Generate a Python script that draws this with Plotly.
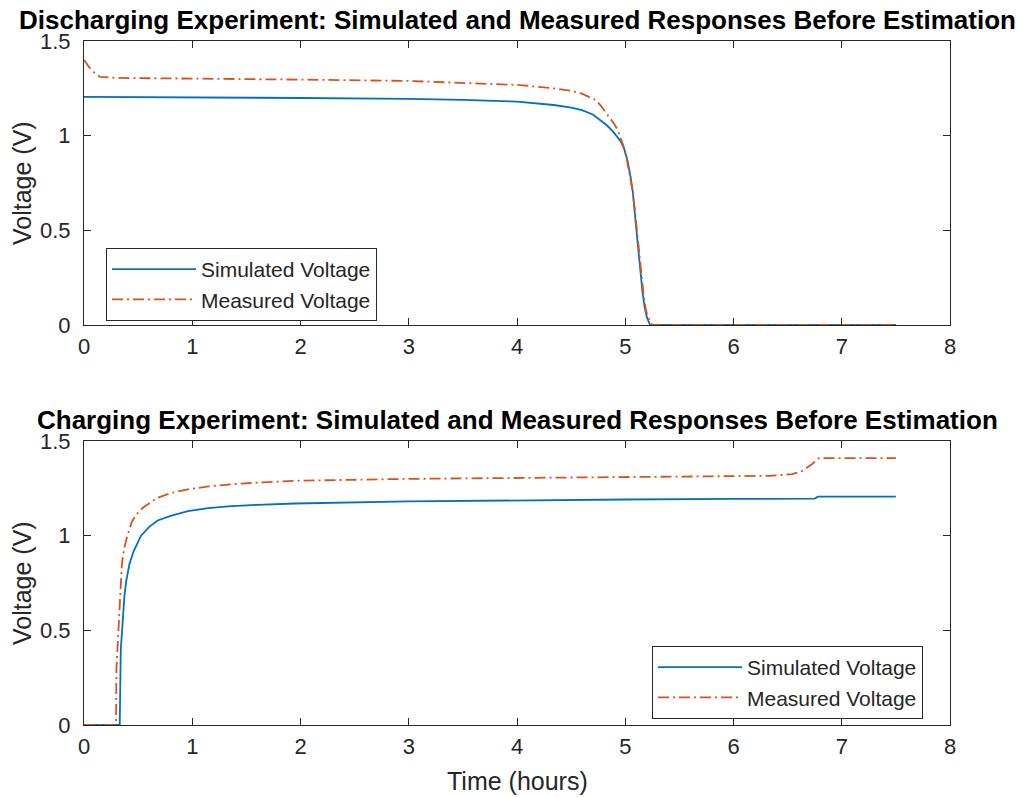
import plotly.graph_objects as go

# ---------------- data ----------------
dis_sim_t = [0, 1, 2, 3, 3.5, 4, 4.2, 4.34, 4.5, 4.6, 4.7, 4.77, 4.83, 4.89, 4.93, 4.96, 4.99,
             5.02, 5.05, 5.07, 5.10, 5.13, 5.16, 5.18, 5.20, 5.23, 7.5]
dis_sim_v = [1.205, 1.203, 1.199, 1.194, 1.189, 1.180, 1.170, 1.162, 1.148, 1.135, 1.112, 1.083, 1.055,
             1.02, 0.99, 0.968, 0.93, 0.87, 0.78, 0.70, 0.52, 0.34, 0.17, 0.09, 0.04, 0.0, 0.0]

dis_meas_t = [0, 0.05, 0.1, 0.15, 0.3, 1, 2, 3, 3.5, 4, 4.34, 4.5, 4.6, 4.65, 4.72, 4.77, 4.82, 4.86,
              4.90, 4.93, 4.98, 5.01, 5.04, 5.07, 5.09, 5.11, 5.14, 5.17, 5.19, 5.21, 5.25, 7.5]
dis_meas_v = [1.40, 1.36, 1.33, 1.31, 1.305, 1.302, 1.296, 1.289, 1.280, 1.268, 1.25, 1.237, 1.222, 1.21,
              1.19, 1.162, 1.125, 1.09, 1.06, 1.03, 0.95, 0.89, 0.80, 0.70, 0.60, 0.50, 0.32, 0.16,
              0.08, 0.04, 0.0, 0.0]

chg_sim_t = [0, 0.33, 0.335, 0.34, 0.352, 0.36, 0.373, 0.39, 0.42, 0.46, 0.527, 0.6, 0.68, 0.8, 0.96,
             1.15, 1.33, 1.6, 1.95, 3, 4, 5, 6, 6.75, 6.78, 7.5]
chg_sim_v = [0, 0, 0.20, 0.40, 0.50, 0.60, 0.68, 0.76, 0.85, 0.92, 1.0, 1.045, 1.08, 1.105, 1.13,
             1.145, 1.155, 1.163, 1.17, 1.181, 1.187, 1.191, 1.194, 1.196, 1.206, 1.206]

chg_meas_t = [0, 0.296, 0.30, 0.31, 0.32, 0.335, 0.35, 0.37, 0.40, 0.44, 0.48, 0.55, 0.68, 0.8, 0.96,
              1.15, 1.33, 1.6, 1.95, 3, 4, 5, 6, 6.33, 6.54, 6.63, 6.73, 6.79, 7.5]
chg_meas_v = [0, 0, 0.30, 0.42, 0.50, 0.70, 0.85, 0.93, 1.0, 1.07, 1.11, 1.15, 1.20, 1.225, 1.245,
              1.26, 1.27, 1.28, 1.29, 1.300, 1.305, 1.310, 1.314, 1.316, 1.325, 1.34, 1.38, 1.41, 1.41]

x_ticks = [0, 1, 2, 3, 4, 5, 6, 7, 8]
y_ticks = [0, 0.5, 1, 1.5]
y_tick_labels = ["0", "0.5", "1", "1.5"]

titles = ["Discharging Experiment: Simulated and Measured Responses Before Estimation",
          "Charging Experiment: Simulated and Measured Responses Before Estimation"]
sim_name = "Simulated Voltage"
meas_name = "Measured Voltage"

# ---------------- style ----------------
BLUE = "#0072BD"
ORANGE = "#D95319"
AX = "#262626"
FONT = "Liberation Sans, Arial, sans-serif"
W, H = 1027, 797
DASH = "11px,4px,2px,4px"

fig = go.Figure()

fig.add_trace(go.Scatter(x=dis_sim_t, y=dis_sim_v, mode="lines", name=sim_name,
                         line=dict(color=BLUE, width=1.8), xaxis="x", yaxis="y", legend="legend"))
fig.add_trace(go.Scatter(x=dis_meas_t, y=dis_meas_v, mode="lines", name=meas_name,
                         line=dict(color=ORANGE, width=1.8, dash=DASH),
                         xaxis="x", yaxis="y", legend="legend"))
fig.add_trace(go.Scatter(x=chg_sim_t, y=chg_sim_v, mode="lines", name=sim_name,
                         line=dict(color=BLUE, width=1.8), xaxis="x2", yaxis="y2", legend="legend2"))
fig.add_trace(go.Scatter(x=chg_meas_t, y=chg_meas_v, mode="lines", name=meas_name,
                         line=dict(color=ORANGE, width=1.8, dash=DASH),
                         xaxis="x2", yaxis="y2", legend="legend2"))

px_l, px_r = 84, 950
top_t, top_b = 41, 325
bot_t, bot_b = 441, 725
xdom = [px_l / W, px_r / W]

def xax(anchor):
    return dict(domain=xdom, anchor=anchor, range=[0, 8], tickvals=x_ticks, automargin=False,
                showline=True, linecolor=AX, linewidth=1, mirror="ticks",
                ticks="inside", ticklen=7, tickcolor=AX, showgrid=False, zeroline=False,
                tickfont=dict(family=FONT, size=22, color=AX), ticklabelstandoff=2)

def yax(anchor, dom):
    return dict(domain=dom, anchor=anchor, range=[0, 1.5], tickvals=y_ticks, ticktext=y_tick_labels,
                automargin=False,
                showline=True, linecolor=AX, linewidth=1, mirror="ticks",
                ticks="inside", ticklen=7, tickcolor=AX, showgrid=False, zeroline=False,
                tickfont=dict(family=FONT, size=22, color=AX), ticklabelstandoff=8)

def txt(s, x, y, size, angle=0, color=AX):
    return dict(text=s, x=x / W, y=1 - y / H, xref="paper", yref="paper",
                xanchor="center", yanchor="middle", showarrow=False, textangle=angle,
                font=dict(family=FONT, size=size, color=color))

def leg(x, y):
    return dict(x=x / W, y=1 - y / H, xanchor="left", yanchor="top",
                bgcolor="white", bordercolor=AX, borderwidth=1,
                itemwidth=84,
                font=dict(family=FONT, size=21, color=AX), tracegroupgap=0)

fig.update_layout(
    width=W, height=H,
    margin=dict(l=0, r=0, t=0, b=0),
    paper_bgcolor="white", plot_bgcolor="white",
    xaxis=xax("y"),
    yaxis=yax("x", [1 - top_b / H, 1 - top_t / H]),
    xaxis2=xax("y2"),
    yaxis2=yax("x2", [1 - bot_b / H, 1 - bot_t / H]),
    legend=leg(106, 248),
    legend2=leg(652, 646),
    annotations=[
        txt("<b>" + titles[0] + "</b>", (px_l + px_r) / 2, 20, 26, color="#000000"),
        txt("<b>" + titles[1] + "</b>", (px_l + px_r) / 2, 420, 26, color="#000000"),
        txt("Voltage (V)", 22, (top_t + top_b) / 2, 25, angle=-90),
        txt("Voltage (V)", 22, (bot_t + bot_b) / 2, 25, angle=-90),
        txt("Time (hours)", (px_l + px_r) / 2, 781, 25),
    ],
)

fig.write_html("out.html", config={"displayModeBar": False},
               post_script="document.body.style.margin='0';document.body.style.overflow='hidden';")
